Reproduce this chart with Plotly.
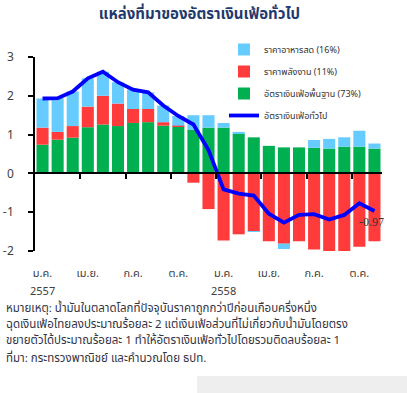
import plotly.graph_objects as go

months = list(range(23))
tick_pos = [0, 3, 6, 9, 12, 15, 18, 21]
tick_text = ["ม.ค.", "เม.ย.", "ก.ค.", "ต.ค.", "ม.ค.", "เม.ย.", "ก.ค.", "ต.ค."]
year_pos = [0, 12]
year_text = ["2557", "2558"]
quarter_bounds = [2.5, 5.5, 8.5, 11.5, 14.5, 17.5, 20.5]

core = [0.74, 0.87, 0.92, 1.19, 1.26, 1.22, 1.30, 1.32, 1.23, 1.20, 1.13, 1.18,
        1.18, 1.02, 0.93, 0.71, 0.67, 0.67, 0.66, 0.64, 0.69, 0.69, 0.64]
energy = [0.44, 0.20, 0.30, 0.53, 0.74, 0.58, 0.36, 0.34, 0.09, 0.03, -0.24, -0.92,
          -1.73, -1.57, -1.49, -1.75, -1.81, -1.75, -1.96, -2.05, -2.00, -1.89, -1.75]
food = [0.75, 0.87, 0.89, 0.73, 0.62, 0.55, 0.50, 0.43, 0.43, 0.25, 0.37, 0.32,
        0.12, 0.05, -0.01, 0.00, -0.14, 0.00, 0.20, 0.25, 0.24, 0.41, 0.13]
headline = [1.93, 1.94, 2.11, 2.45, 2.62, 2.35, 2.16, 2.09, 1.75, 1.48, 1.26, 0.60,
            -0.41, -0.52, -0.57, -1.04, -1.27, -1.07, -1.05, -1.19, -1.07, -0.77, -0.97]

names = ["ราคาอาหารสด (16%)", "ราคาพลังงาน (11%)", "อัตราเงินเฟ้อพื้นฐาน (73%)", "อัตราเงินเฟ้อทั่วไป"]
notes = [
    "หมายเหตุ: น้ำมันในตลาดโลกที่ปัจจุบันราคาถูกกว่าปีก่อนเกือบครึ่งหนึ่ง",
    "ฉุดเงินเฟ้อไทยลงประมาณร้อยละ 2 แต่เงินเฟ้อส่วนที่ไม่เกี่ยวกับน้ำมันโดยตรง",
    "ขยายตัวได้ประมาณร้อยละ 1 ทำให้อัตราเงินเฟ้อทั่วไปโดยรวมติดลบร้อยละ 1",
]
source = "ที่มา: กระทรวงพาณิชย์ และคำนวณโดย ธปท."

FONT = "Tahoma, 'Noto Sans Thai', 'Noto Sans', 'DejaVu Sans', sans-serif"
W, H = 407, 393
L, R, T, B = 35, 25, 57, 142
PW, PH = W - L - R, H - T - B


def px(x):
    return (x - L) / PW


def py(y):
    return (H - B - y) / PH


fig = go.Figure()
fig.add_bar(x=months, y=core, name=names[2], marker=dict(color="#00B050", line_width=0),
            legendrank=3, legendgroup="g3")
fig.add_bar(x=months, y=energy, name=names[1], marker=dict(color="#FF3B3B", line_width=0),
            legendrank=2, legendgroup="g2")
fig.add_bar(x=months, y=food, name=names[0], marker=dict(color="#66CCFF", line_width=0),
            legendrank=1, legendgroup="g1")
fig.add_scatter(x=months, y=headline, name=names[3], mode="lines", xaxis="x2",
                line=dict(color="#0000FF", width=3.8), legendrank=4, legendgroup="g4")

fig.add_annotation(x=months[-1], y=headline[-1], xref="x2", yref="y", text=f"{headline[-1]:.2f}",
                   showarrow=False, xshift=-3, yshift=-11,
                   font=dict(family="'Liberation Serif', serif", size=12, color="#333333"))

for xv, yt in zip(year_pos, year_text):
    fig.add_annotation(x=xv, y=py(291), xref="x", yref="paper", text=yt, showarrow=False,
                       xanchor="center", yanchor="middle",
                       font=dict(family=FONT, size=11, color="#404040"))

for i, line in enumerate(notes):
    fig.add_annotation(x=px(4), y=py(308 + 16 * i), xref="paper", yref="paper", text=line,
                       showarrow=False, xanchor="left", yanchor="middle",
                       font=dict(family=FONT, size=11.5, color="#333344"))
fig.add_annotation(x=px(4), y=py(358), xref="paper", yref="paper", text=source,
                   showarrow=False, xanchor="left", yanchor="middle",
                   font=dict(family=FONT, size=11.5, color="#333344"))

fig.add_shape(type="rect", xref="paper", yref="paper", x0=px(197), x1=px(407), y0=py(376), y1=py(393),
              fillcolor="#EEEEEE", line_width=0, layer="below")

fig.update_layout(
    width=W, height=H,
    margin=dict(l=L, r=R, t=T, b=B, autoexpand=False),
    paper_bgcolor="white", plot_bgcolor="white",
    barmode="relative", bargap=0.2,
    font=dict(family=FONT, color="#404040"),
    title=dict(text="<b>แหล่งที่มาของอัตราเงินเฟ้อทั่วไป</b>", x=0.49, xref="container", xanchor="center",
               y=1 - 14 / H, yref="container", yanchor="middle",
               font=dict(family=FONT, size=15, color="#1F3A6E")),
    showlegend=True,
    legend=dict(x=px(224), y=1 - 35 / H, xref="paper", yref="container", xanchor="left", yanchor="top",
                traceorder="grouped", tracegroupgap=3,
                bgcolor="rgba(0,0,0,0)", font=dict(family=FONT, size=9, color="#333333"),
                itemwidth=30),
    xaxis=dict(range=[-0.5, 22.5], tickvals=tick_pos, ticktext=tick_text, showgrid=False,
               zeroline=False, showline=False, ticks="", ticklabelstandoff=14,
               tickfont=dict(family=FONT, size=11, color="#404040")),
    xaxis2=dict(range=[-0.5, 22.5], overlaying="x", anchor="free", position=0.4, side="bottom",
                showline=True, linecolor="black", linewidth=1.5, ticks="outside", ticklen=5,
                tickwidth=1.5, tickcolor="black", tickvals=quarter_bounds, showticklabels=False,
                showgrid=False, zeroline=False),
    yaxis=dict(range=[-2, 3], tickvals=[-2, -1, 0, 1, 2, 3], showgrid=False, zeroline=False,
               showline=True, linecolor="black", linewidth=1.5, ticks="outside", ticklen=5,
               tickwidth=1.5, tickcolor="black", ticklabelstandoff=12,
               tickfont=dict(family=FONT, size=12, color="#404040")),
)

fig.write_html("out.html", config={"displayModeBar": False},
               post_script="document.body.style.margin='0';document.body.style.overflow='hidden';")
